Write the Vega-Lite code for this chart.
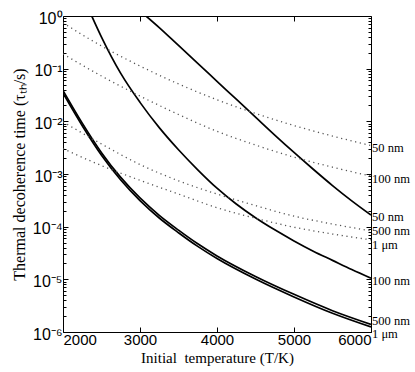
{
  "$schema": "https://vega.github.io/schema/vega-lite/v6.json",
  "autosize": {"type": "none"},
  "padding": {"left": 63, "top": 16, "right": 44, "bottom": 40},
  "width": 308,
  "height": 316,
  "background": "white",
  "config": {
    "view": {"stroke": "black", "strokeWidth": 1},
    "axis": {
      "domain": false,
      "grid": false,
      "tickColor": "black",
      "labelColor": "black",
      "titleColor": "black",
      "labelFont": "Liberation Sans",
      "labelFontSize": 15,
      "titleFont": "Liberation Serif",
      "titleFontSize": 16,
      "titleFontWeight": "normal"
    }
  },
  "datasets": {
    "solid": [
      {"T": 3078, "tau": 1, "s": "A50"},
      {"T": 3250, "tau": 0.6026, "s": "A50"},
      {"T": 3500, "tau": 0.2754, "s": "A50"},
      {"T": 3750, "tau": 0.1259, "s": "A50"},
      {"T": 4000, "tau": 0.05754, "s": "A50"},
      {"T": 4250, "tau": 0.0263, "s": "A50"},
      {"T": 4500, "tau": 0.01202, "s": "A50"},
      {"T": 4750, "tau": 0.005495, "s": "A50"},
      {"T": 5000, "tau": 0.00257, "s": "A50"},
      {"T": 5250, "tau": 0.00123, "s": "A50"},
      {"T": 5500, "tau": 0.0006026, "s": "A50"},
      {"T": 5750, "tau": 0.000309, "s": "A50"},
      {"T": 6000, "tau": 0.000166, "s": "A50"},
      {"T": 2373, "tau": 1, "s": "B100"},
      {"T": 2500, "tau": 0.3981, "s": "B100"},
      {"T": 2750, "tau": 0.08128, "s": "B100"},
      {"T": 3000, "tau": 0.02291, "s": "B100"},
      {"T": 3250, "tau": 0.007586, "s": "B100"},
      {"T": 3500, "tau": 0.002884, "s": "B100"},
      {"T": 3750, "tau": 0.001202, "s": "B100"},
      {"T": 4000, "tau": 0.000537, "s": "B100"},
      {"T": 4250, "tau": 0.0002692, "s": "B100"},
      {"T": 4500, "tau": 0.0001479, "s": "B100"},
      {"T": 4750, "tau": 0.0000871, "s": "B100"},
      {"T": 5000, "tau": 0.0000537, "s": "B100"},
      {"T": 5250, "tau": 0.00003428, "s": "B100"},
      {"T": 5500, "tau": 0.00002291, "s": "B100"},
      {"T": 5750, "tau": 0.00001531, "s": "B100"},
      {"T": 6000, "tau": 0.00001047, "s": "B100"},
      {"T": 2000, "tau": 0.03846, "s": "C500"},
      {"T": 2250, "tau": 0.009226, "s": "C500"},
      {"T": 2500, "tau": 0.002541, "s": "C500"},
      {"T": 2750, "tau": 0.000861, "s": "C500"},
      {"T": 3000, "tau": 0.0003508, "s": "C500"},
      {"T": 3250, "tau": 0.0001641, "s": "C500"},
      {"T": 3500, "tau": 0.0000861, "s": "C500"},
      {"T": 3750, "tau": 0.00004732, "s": "C500"},
      {"T": 4000, "tau": 0.00002786, "s": "C500"},
      {"T": 4500, "tau": 0.00001135, "s": "C500"},
      {"T": 5000, "tau": 0.000005188, "s": "C500"},
      {"T": 5500, "tau": 0.000002541, "s": "C500"},
      {"T": 6000, "tau": 0.000001396, "s": "C500"},
      {"T": 2000, "tau": 0.03428, "s": "C1000"},
      {"T": 2250, "tau": 0.008222, "s": "C1000"},
      {"T": 2500, "tau": 0.002265, "s": "C1000"},
      {"T": 2750, "tau": 0.0007674, "s": "C1000"},
      {"T": 3000, "tau": 0.0003126, "s": "C1000"},
      {"T": 3250, "tau": 0.0001462, "s": "C1000"},
      {"T": 3500, "tau": 0.00007674, "s": "C1000"},
      {"T": 3750, "tau": 0.00004217, "s": "C1000"},
      {"T": 4000, "tau": 0.00002483, "s": "C1000"},
      {"T": 4500, "tau": 0.00001012, "s": "C1000"},
      {"T": 5000, "tau": 0.000004624, "s": "C1000"},
      {"T": 5500, "tau": 0.000002265, "s": "C1000"},
      {"T": 6000, "tau": 0.000001245, "s": "C1000"}
    ],
    "dotted": [
      {"T": 2000, "tau": 0.7413, "s": "D50"},
      {"T": 2500, "tau": 0.2692, "s": "D50"},
      {"T": 3000, "tau": 0.1122, "s": "D50"},
      {"T": 3500, "tau": 0.05129, "s": "D50"},
      {"T": 4000, "tau": 0.0257, "s": "D50"},
      {"T": 4500, "tau": 0.01413, "s": "D50"},
      {"T": 5000, "tau": 0.008318, "s": "D50"},
      {"T": 5500, "tau": 0.005248, "s": "D50"},
      {"T": 6000, "tau": 0.003467, "s": "D50"},
      {"T": 2000, "tau": 0.1905, "s": "D100"},
      {"T": 2500, "tau": 0.07244, "s": "D100"},
      {"T": 3000, "tau": 0.0302, "s": "D100"},
      {"T": 3500, "tau": 0.01349, "s": "D100"},
      {"T": 4000, "tau": 0.006457, "s": "D100"},
      {"T": 4500, "tau": 0.003548, "s": "D100"},
      {"T": 5000, "tau": 0.002089, "s": "D100"},
      {"T": 5500, "tau": 0.001349, "s": "D100"},
      {"T": 6000, "tau": 0.000912, "s": "D100"},
      {"T": 2000, "tau": 0.009772, "s": "D500"},
      {"T": 2500, "tau": 0.003715, "s": "D500"},
      {"T": 3000, "tau": 0.001514, "s": "D500"},
      {"T": 3500, "tau": 0.0007413, "s": "D500"},
      {"T": 4000, "tau": 0.0004169, "s": "D500"},
      {"T": 4500, "tau": 0.0002512, "s": "D500"},
      {"T": 5000, "tau": 0.0001585, "s": "D500"},
      {"T": 5500, "tau": 0.0001122, "s": "D500"},
      {"T": 6000, "tau": 0.00008318, "s": "D500"},
      {"T": 2000, "tau": 0.00302, "s": "D1000"},
      {"T": 2500, "tau": 0.001445, "s": "D1000"},
      {"T": 3000, "tau": 0.0007586, "s": "D1000"},
      {"T": 3500, "tau": 0.0004169, "s": "D1000"},
      {"T": 4000, "tau": 0.0002291, "s": "D1000"},
      {"T": 4500, "tau": 0.0001445, "s": "D1000"},
      {"T": 5000, "tau": 0.00009772, "s": "D1000"},
      {"T": 5500, "tau": 0.00007244, "s": "D1000"},
      {"T": 6000, "tau": 0.00005623, "s": "D1000"}
    ],
    "labels": [
      {"T": 6000, "tau": 0.00312, "label": "50 nm"},
      {"T": 6000, "tau": 0.000804, "label": "100 nm"},
      {"T": 6000, "tau": 0.000153, "label": "50 nm"},
      {"T": 6000, "tau": 0.0000828, "label": "500 nm"},
      {"T": 6000, "tau": 0.0000449, "label": "1 μm"},
      {"T": 6000, "tau": 0.00000931, "label": "100 nm"},
      {"T": 6000, "tau": 0.00000165, "label": "500 nm"},
      {"T": 6000, "tau": 0.00000093, "label": "1 μm"}
    ]
  },
  "resolve": {"axis": {"x": "independent", "y": "independent"}},
  "layer": [
    {
      "data": {"name": "solid"},
      "mark": {"type": "line", "color": "black", "strokeWidth": 1.7, "interpolate": "monotone", "clip": true},
      "encoding": {
        "x": {
          "field": "T", "type": "quantitative",
          "scale": {"domain": [2000, 6000], "nice": false, "zero": false},
          "axis": {
            "orient": "bottom",
            "values": [2000, 3000, 4000, 5000, 6000],
            "format": "d",
            "tickSize": -5,
            "labelPadding": 5,
            "title": "Initial\u00a0\u00a0temperature (T/K)",
            "titleFontSize": 15,
            "titlePadding": 3
          }
        },
        "y": {
          "field": "tau", "type": "quantitative",
          "scale": {"type": "log", "domain": [0.000001, 1], "nice": false},
          "axis": {
            "orient": "left",
            "values": [0.000001, 0.000002, 0.000003, 0.000004, 0.000005, 0.000006, 0.000007, 0.000008, 0.000009,
                       0.00001, 0.00002, 0.00003, 0.00004, 0.00005, 0.00006, 0.00007, 0.00008, 0.00009,
                       0.0001, 0.0002, 0.0003, 0.0004, 0.0005, 0.0006, 0.0007, 0.0008, 0.0009,
                       0.001, 0.002, 0.003, 0.004, 0.005, 0.006, 0.007, 0.008, 0.009,
                       0.01, 0.02, 0.03, 0.04, 0.05, 0.06, 0.07, 0.08, 0.09,
                       0.1, 0.2, 0.3, 0.4, 0.5, 0.6, 0.7, 0.8, 0.9, 1],
            "labelExpr": "abs(log(datum.value)/LN10 - round(log(datum.value)/LN10)) < 0.001 ? ['10⁻⁶','10⁻⁵','10⁻⁴','10⁻³','10⁻²','10⁻¹','10⁰'][round(log(datum.value)/LN10)+6] : ''",
            "tickSize": {"condition": {"test": "abs(log(datum.value)/LN10 - round(log(datum.value)/LN10)) < 0.001", "value": -5}, "value": -3},
            "labelFontSize": 16,
            "labelPadding": 6,
            "labelOffset": 2,
            "labelOverlap": false,
            "title": "Thermal decoherence time (τₜₕ/s)",
            "titlePadding": 5
          }
        },
        "detail": {"field": "s"}
      }
    },
    {
      "data": {"name": "dotted"},
      "mark": {"type": "line", "color": "#555555", "strokeWidth": 1.3, "strokeDash": [1.2, 3.6], "interpolate": "monotone", "clip": true},
      "encoding": {
        "x": {
          "field": "T", "type": "quantitative",
          "axis": {"orient": "top", "values": [3000, 4000, 5000], "labels": false, "tickSize": -5, "title": null}
        },
        "y": {
          "field": "tau", "type": "quantitative",
          "axis": {
            "orient": "right",
            "values": [0.000001, 0.000002, 0.000003, 0.000004, 0.000005, 0.000006, 0.000007, 0.000008, 0.000009,
                       0.00001, 0.00002, 0.00003, 0.00004, 0.00005, 0.00006, 0.00007, 0.00008, 0.00009,
                       0.0001, 0.0002, 0.0003, 0.0004, 0.0005, 0.0006, 0.0007, 0.0008, 0.0009,
                       0.001, 0.002, 0.003, 0.004, 0.005, 0.006, 0.007, 0.008, 0.009,
                       0.01, 0.02, 0.03, 0.04, 0.05, 0.06, 0.07, 0.08, 0.09,
                       0.1, 0.2, 0.3, 0.4, 0.5, 0.6, 0.7, 0.8, 0.9, 1],
            "labels": false,
            "tickSize": {"condition": {"test": "abs(log(datum.value)/LN10 - round(log(datum.value)/LN10)) < 0.001", "value": -5}, "value": -3},
            "title": null
          }
        },
        "detail": {"field": "s"}
      }
    },
    {
      "data": {"name": "labels"},
      "mark": {"type": "text", "align": "left", "baseline": "middle", "dx": 1, "font": "Liberation Serif", "fontSize": 12.5, "color": "black"},
      "encoding": {
        "x": {"field": "T", "type": "quantitative", "axis": null},
        "y": {"field": "tau", "type": "quantitative", "axis": null},
        "text": {"field": "label"}
      }
    }
  ]
}
